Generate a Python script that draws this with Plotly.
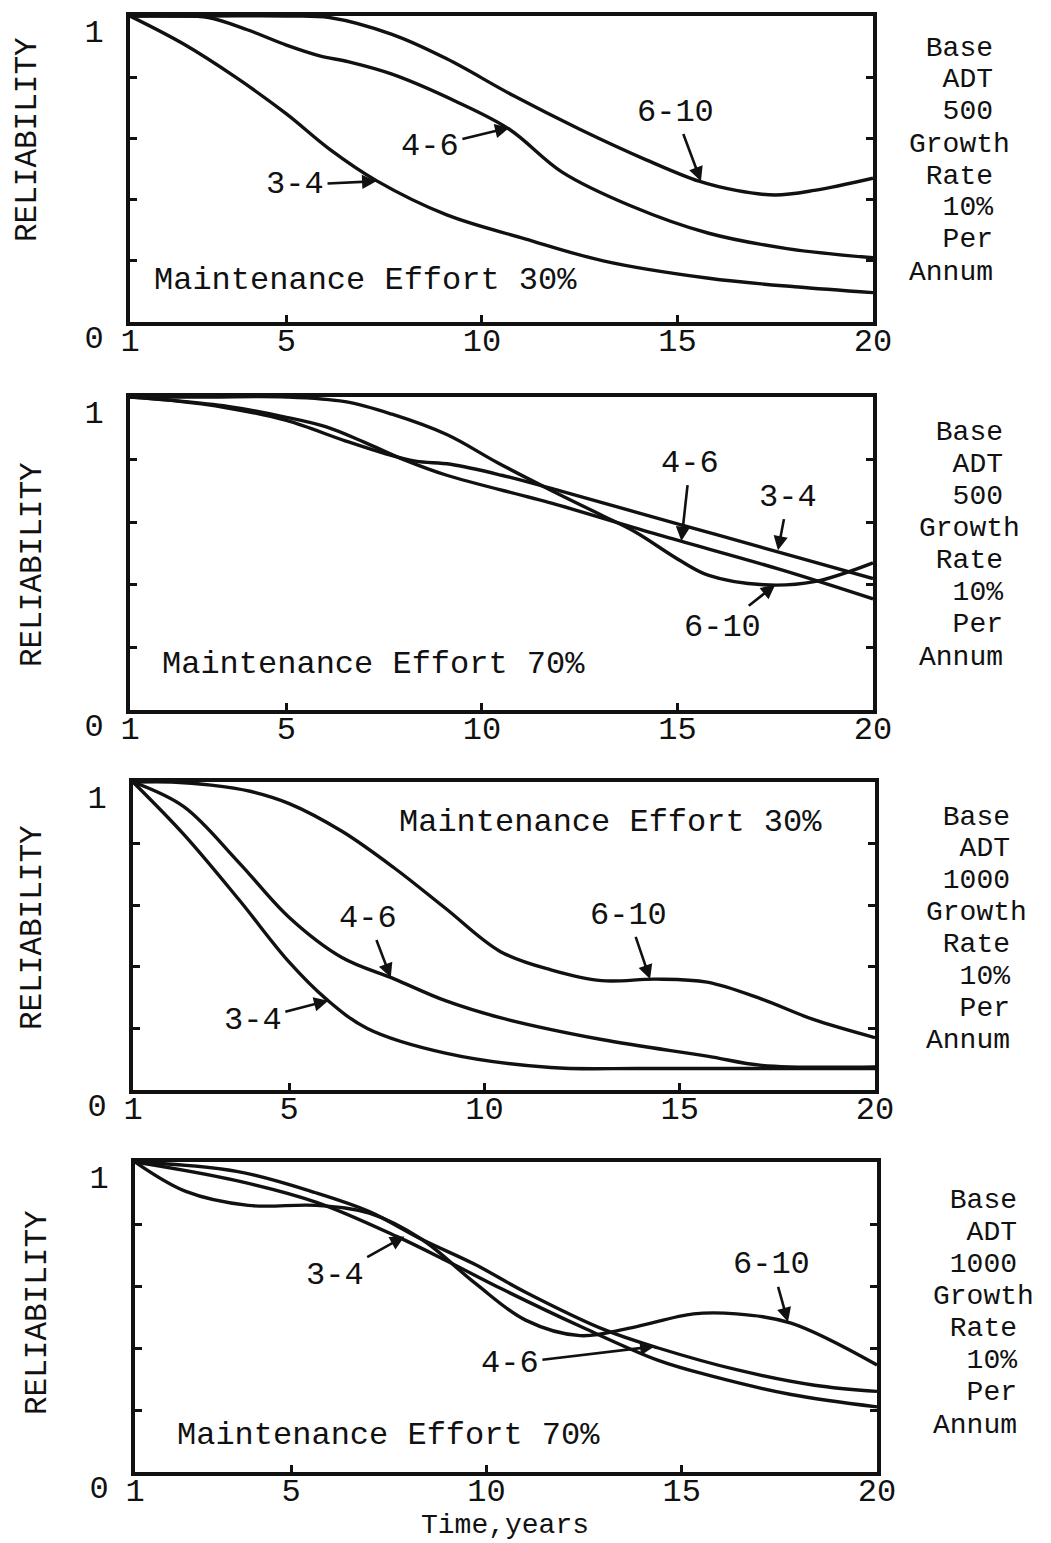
import plotly.graph_objects as go

# ---------------- data ----------------
series_names = ["3-4", "4-6", "6-10"]
x_ticks = [1, 5, 10, 15, 20]
x_tick_labels = ["1", "5", "10", "15", "20"]
y_ticks = [0, 0.2, 0.4, 0.6, 0.8, 1.0]
y_tick_labels = ["0", "", "", "", "", "1"]

# Panel 1: Base ADT 500, Maintenance Effort 30%
p1_34_x = [1, 2.35, 3.7, 5, 6.1, 7.3, 9.1, 11.1, 13.1, 15.8, 18, 20]
p1_34_y = [1, 0.91, 0.80, 0.68, 0.565, 0.462, 0.35, 0.272, 0.20, 0.143, 0.115, 0.096]
p1_46_x = [1, 2, 3, 4, 5, 5.85, 6.6, 7.7, 9.35, 10.7, 12.05, 13.8, 15.8, 17.8, 20]
p1_46_y = [1, 1, 0.995, 0.955, 0.905, 0.87, 0.85, 0.81, 0.72, 0.63, 0.49, 0.38, 0.29, 0.24, 0.21]
p1_610_x = [1, 3, 5, 6.1, 7.7, 9.1, 10.8, 12.5, 14.2, 15.55, 16.5, 17.5, 18.5, 20]
p1_610_y = [1, 1, 1, 0.995, 0.94, 0.86, 0.74, 0.63, 0.53, 0.46, 0.43, 0.415, 0.43, 0.47]

# Panel 2: Base ADT 500, Maintenance Effort 70%
p2_34_x = [1, 2, 3.5, 5, 6.5, 7.5, 8.3, 9.2, 10.5, 12, 14, 16, 18, 20]
p2_34_y = [1, 0.99, 0.965, 0.925, 0.86, 0.82, 0.795, 0.785, 0.75, 0.70, 0.63, 0.56, 0.49, 0.42]
p2_46_x = [1, 2, 3.5, 5, 6, 7, 8, 9.1, 11.8, 14.5, 17.6, 20]
p2_46_y = [1, 0.99, 0.97, 0.935, 0.905, 0.855, 0.80, 0.75, 0.66, 0.56, 0.45, 0.355]
p2_610_x = [1, 3, 5, 6.5, 7.7, 9.1, 10.4, 11.8, 13.1, 13.9, 15.1, 15.8, 17.2, 18.5, 20]
p2_610_y = [1, 1, 1, 0.985, 0.945, 0.88, 0.79, 0.70, 0.62, 0.57, 0.475, 0.43, 0.40, 0.41, 0.47]

# Panel 3: Base ADT 1000, Maintenance Effort 30%
p3_34_x = [1, 2.3, 3.7, 5, 5.95, 7, 9, 11.7, 14, 17, 20]
p3_34_y = [1, 0.83, 0.62, 0.415, 0.295, 0.20, 0.12, 0.073, 0.07, 0.07, 0.07]
p3_46_x = [1, 2.3, 3.7, 5, 6.35, 7.7, 9, 10.4, 13, 15.7, 17.1, 20]
p3_46_y = [1, 0.92, 0.74, 0.56, 0.43, 0.36, 0.29, 0.235, 0.164, 0.11, 0.08, 0.075]
p3_610_x = [1, 2, 3, 4, 5, 6.35, 7.7, 9, 10.4, 11.7, 13, 14.4, 15.7, 17.1, 18.4, 20]
p3_610_y = [1, 1, 0.99, 0.97, 0.93, 0.84, 0.72, 0.59, 0.45, 0.39, 0.355, 0.36, 0.35, 0.295, 0.23, 0.17]

# Panel 4: Base ADT 1000, Maintenance Effort 70%
p4_34_x = [1, 3.6, 5.65, 7.7, 9, 10.4, 12.4, 14.4, 15.75, 17.8, 20]
p4_34_y = [1, 0.94, 0.87, 0.76, 0.68, 0.59, 0.47, 0.36, 0.31, 0.25, 0.21]
p4_46_x = [1, 3.6, 5.65, 7, 8.35, 9.7, 11, 13, 14.4, 16.4, 18.4, 20]
p4_46_y = [1, 0.97, 0.90, 0.84, 0.75, 0.67, 0.58, 0.46, 0.40, 0.33, 0.28, 0.26]
p4_610_x = [1, 2.3, 3.9, 5.65, 7, 8.35, 9.7, 11, 12.4, 13.7, 15.3, 16.4, 17.8, 20]
p4_610_y = [1, 0.905, 0.86, 0.86, 0.835, 0.75, 0.61, 0.49, 0.44, 0.465, 0.51, 0.51, 0.48, 0.345]

effort_labels = ["Maintenance Effort 30%", "Maintenance Effort 70%",
                 "Maintenance Effort 30%", "Maintenance Effort 70%"]
side_500 = ["\u00a0Base", "\u00a0\u00a0ADT", "\u00a0\u00a0500", "Growth",
            "\u00a0Rate", "\u00a0\u00a010%", "\u00a0\u00a0Per", "Annum"]
side_1000 = ["\u00a0Base", "\u00a0\u00a0ADT", "\u00a01000", "Growth",
             "\u00a0Rate", "\u00a0\u00a010%", "\u00a0\u00a0Per", "Annum"]
side_texts = [side_500, side_500, side_1000, side_1000]
y_title = "RELIABILITY"
x_title = "Time,years"

panels = [
    [(p1_34_x, p1_34_y), (p1_46_x, p1_46_y), (p1_610_x, p1_610_y)],
    [(p2_34_x, p2_34_y), (p2_46_x, p2_46_y), (p2_610_x, p2_610_y)],
    [(p3_34_x, p3_34_y), (p3_46_x, p3_46_y), (p3_610_x, p3_610_y)],
    [(p4_34_x, p4_34_y), (p4_46_x, p4_46_y), (p4_610_x, p4_610_y)],
]

# ---------------- layout geometry ----------------
W, H = 1051, 1543
boxes = [(130, 873, 16, 322), (130, 873, 397, 710), (133, 875, 782, 1090), (135, 877, 1162, 1472)]
FONT = "Liberation Mono, Courier New, monospace"
INK = "#111111"
fs = 32

fig = go.Figure()
for i, panel in enumerate(panels):
    for name, (xs, ys) in zip(series_names, panel):
        fig.add_trace(go.Scatter(
            x=xs, y=ys, name=name, mode="lines",
            line=dict(color=INK, width=3.4, shape="spline", smoothing=1.0),
            xaxis=f"x{i+1}", yaxis=f"y{i+1}", showlegend=False,
        ))

layout = dict(
    template="none",
    width=W, height=H, margin=dict(l=0, r=0, t=0, b=0, pad=0, autoexpand=False),
    paper_bgcolor="white", plot_bgcolor="white",
    font=dict(family=FONT, size=fs, color=INK),
    showlegend=False,
)
for i, (l, r, t, b) in enumerate(boxes):
    k = "" if i == 0 else str(i + 1)
    layout[f"xaxis{k}"] = dict(
        domain=[l / W, r / W], range=[1, 20], anchor=f"y{i+1}",
        showline=True, linewidth=4, linecolor=INK, mirror=True,
        ticks="inside", ticklen=7, tickwidth=3, tickcolor=INK,
        tickvals=x_ticks, ticktext=x_tick_labels, automargin=False,
        showgrid=False, zeroline=False, fixedrange=True,
        tickfont=dict(family=FONT, size=fs, color=INK), ticklabelstandoff=-13,
    )
    layout[f"yaxis{k}"] = dict(
        domain=[1 - b / H, 1 - t / H], range=[0, 1], anchor=f"x{i+1}",
        showline=True, linewidth=4, linecolor=INK, mirror="ticks",
        ticks="inside", ticklen=7, tickwidth=3, tickcolor=INK,
        tickvals=y_ticks, ticktext=y_tick_labels, automargin=False,
        showgrid=False, zeroline=False, fixedrange=True,
        tickfont=dict(family=FONT, size=fs, color=INK),
        ticklabelshift=15, ticklabelstandoff=16,
    )
fig.update_layout(**layout)

ann = []
# y titles
ytitle_pos = [(27, 140), (32, 565), (32, 928), (37, 1313)]
for (px, py) in ytitle_pos:
    ann.append(dict(text=y_title, xref="paper", yref="paper", x=px / W, y=1 - py / H,
                    textangle=-90, showarrow=False, xanchor="center", yanchor="middle",
                    font=dict(family=FONT, size=31, color=INK)))
# side texts
side_pos = [(908, 48, 272), (918, 432, 657), (925, 817, 1040), (932, 1200, 1425)]
for lines, (lx, y0, y1) in zip(side_texts, side_pos):
    step = (y1 - y0) / (len(lines) - 1)
    for j, s in enumerate(lines):
        ann.append(dict(text=s, xref="paper", yref="paper", x=lx / W, y=1 - (y0 + j * step) / H,
                        xanchor="left", yanchor="middle", showarrow=False, borderpad=0,
                        font=dict(family=FONT, size=28, color=INK)))
# maintenance effort labels (data coords of left/center)
effort_pos = [(1.56, 0.137), (1.77, 0.144), (7.76, 0.867), (2.02, 0.119)]
for i, (txt, (ex, ey)) in enumerate(zip(effort_labels, effort_pos)):
    ann.append(dict(text=txt, xref=f"x{i+1}", yref=f"y{i+1}", x=ex, y=ey,
                    xanchor="left", yanchor="middle", showarrow=False,
                    font=dict(family=FONT, size=fs, color=INK)))
# curve labels with arrows: (panel, label, text_x, text_y, tip_x, tip_y)
curve_labels = [
    (0, "3-4", 5.22, 0.448, 7.3, 0.46),
    (0, "4-6", 8.67, 0.572, 10.7, 0.635),
    (0, "6-10", 14.94, 0.686, 15.6, 0.46),
    (1, "4-6", 15.32, 0.789, 15.1, 0.54),
    (1, "3-4", 17.83, 0.68, 17.57, 0.51),
    (1, "6-10", 16.14, 0.265, 17.5, 0.40),
    (2, "4-6", 7.02, 0.558, 7.6, 0.365),
    (2, "6-10", 13.68, 0.568, 14.24, 0.36),
    (2, "3-4", 4.07, 0.227, 6.0, 0.29),
    (3, "3-4", 6.12, 0.635, 7.9, 0.76),
    (3, "4-6", 10.6, 0.35, 14.3, 0.405),
    (3, "6-10", 17.31, 0.668, 17.72, 0.484),
]
for (p, txt, tx, ty, hx, hy) in curve_labels:
    ann.append(dict(text=txt, xref=f"x{p+1}", yref=f"y{p+1}", x=hx, y=hy,
                    axref=f"x{p+1}", ayref=f"y{p+1}", ax=tx, ay=ty,
                    showarrow=True, arrowhead=2, arrowsize=1.1, arrowwidth=2.6,
                    arrowcolor=INK, standoff=0, startstandoff=2,
                    font=dict(family=FONT, size=fs, color=INK)))
# x title
ann.append(dict(text=x_title, xref="paper", yref="paper", x=505 / W, y=1 - 1525 / H,
                xanchor="center", yanchor="middle", showarrow=False, borderpad=0,
                font=dict(family=FONT, size=28, color=INK)))
fig.update_layout(annotations=ann)

fig.write_html("out.html")
